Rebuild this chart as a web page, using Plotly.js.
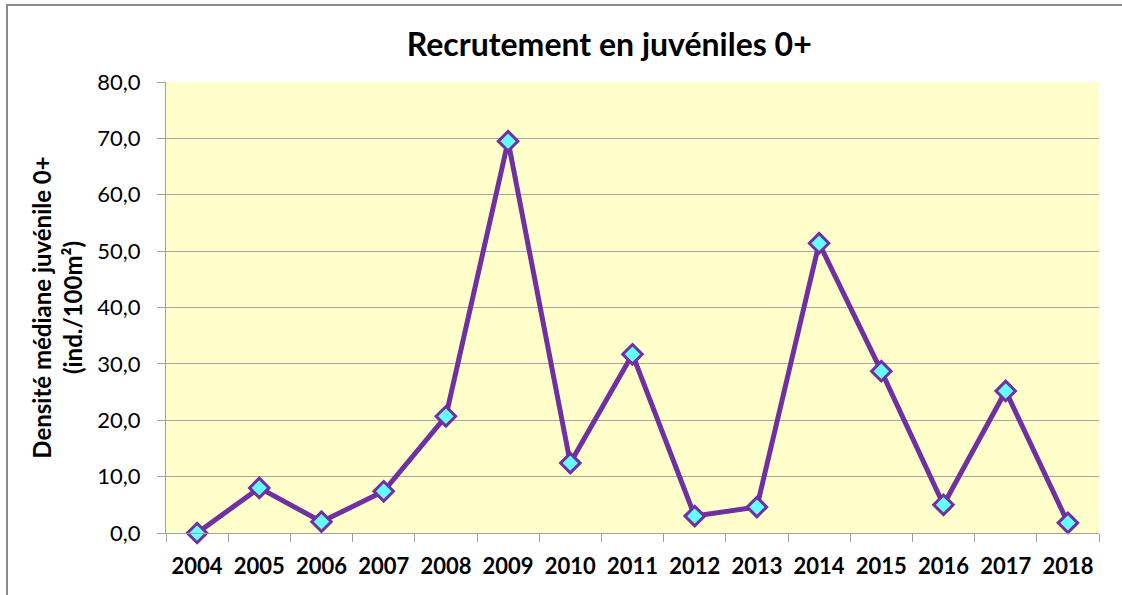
<!DOCTYPE html>
<html>
<head>
<meta charset="utf-8">
<script src="https://cdn.plot.ly/plotly-3.0.1.min.js"></script>
<style>
  html, body { margin: 0; padding: 0; background: #fff; }
  #wrap { position: relative; width: 1122px; height: 595px; overflow: hidden; }
  #chart { position: absolute; left: 0; top: 0; width: 1122px; height: 595px; }
  #frame { position: absolute; left: 6px; top: 4px; width: 1130px; height: 600px;
           border-left: 2px solid #8c8c8c; border-top: 2px solid #8c8c8c; pointer-events: none; }
</style>
</head>
<body>
<div id="wrap">
  <div id="chart"></div>
  <div id="frame"></div>
</div>
<script>
const years = ['2004','2005','2006','2007','2008','2009','2010','2011','2012','2013','2014','2015','2016','2017','2018'];
const density = [0.0, 8.0, 2.0, 7.4, 20.7, 69.5, 12.4, 31.7, 3.0, 4.6, 51.4, 28.7, 5.0, 25.2, 1.8];
const yTicks = [0, 10, 20, 30, 40, 50, 60, 70, 80];

const FONT = 'Lato, "Open Sans", sans-serif';

const trace = {
  type: 'scatter',
  mode: 'lines+markers',
  x: years,
  y: density,
  line: { color: '#7030A0', width: 5 },
  marker: { symbol: 'diamond', size: 15, color: '#66FFFF', line: { color: '#7030A0', width: 3 } },
  cliponaxis: false,
  hoverinfo: 'x+y'
};

const layout = {
  width: 1122,
  height: 595,
  margin: { l: 166, r: 23, t: 82, b: 62 },
  paper_bgcolor: '#ffffff',
  plot_bgcolor: '#FFFFCC',
  showlegend: false,
  separators: ',.',
  font: { family: FONT, color: '#000000', size: 22 },
  title: {
    text: '<b>Recrutement en juvéniles 0+</b>',
    font: { family: FONT, size: 32, color: '#000000' },
    xref: 'container', x: 0.543, xanchor: 'center',
    yref: 'container', y: 0.925, yanchor: 'middle'
  },
  xaxis: {
    type: 'category',
    range: [-0.5, 14.5],
    tickson: 'boundaries',
    ticks: 'outside',
    ticklen: 8,
    tickcolor: '#A0A0A0',
    tickwidth: 1,
    showline: true,
    linecolor: '#A0A0A0',
    linewidth: 1,
    showgrid: false,
    tickfont: { family: FONT, size: 22, color: '#000000', weight: 'bold' },
    ticklabelstandoff: 14,
    fixedrange: true
  },
  yaxis: {
    range: [0, 80],
    tickvals: yTicks,
    tickformat: '.1f',
    ticks: 'outside',
    ticklen: 8,
    tickcolor: '#A0A0A0',
    tickwidth: 1,
    showline: true,
    linecolor: '#A0A0A0',
    linewidth: 1,
    showgrid: true,
    gridcolor: '#A6A6A6',
    gridwidth: 1,
    zeroline: false,
    tickfont: { family: FONT, size: 22, color: '#000000' },
    ticklabelstandoff: 12,
    title: {
      text: '<b>Densité médiane juvénile 0+<br>(ind./100m²)</b>',
      font: { family: FONT, size: 24, color: '#000000' },
      standoff: 7
    },
    fixedrange: true
  }
};

Plotly.newPlot('chart', [trace], layout, { displayModeBar: false, staticPlot: true });
</script>
</body>
</html>
